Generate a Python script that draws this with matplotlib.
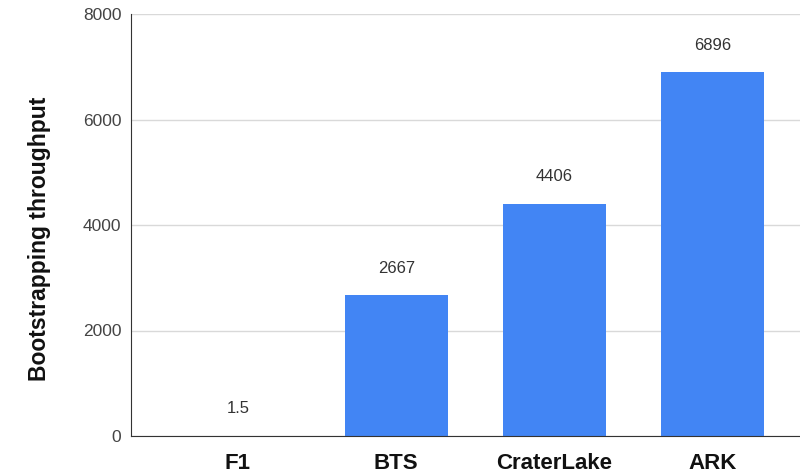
import matplotlib
matplotlib.use("Agg")
import matplotlib.pyplot as plt

categories = ["F1", "BTS", "CraterLake", "ARK"]
throughput = [1.5, 2667, 4406, 6896]
value_labels = ["1.5", "2667", "4406", "6896"]
y_ticks = [0, 2000, 4000, 6000, 8000]

plt.rcParams["font.family"] = ["Liberation Sans", "DejaVu Sans"]

fig = plt.figure(figsize=(8, 4.76), dpi=100)
ax = fig.add_axes([131 / 800, 40 / 476, 669 / 800, 422 / 476])

x = list(range(len(categories)))
ax.bar(x, throughput, width=0.65, color="#4285F4", zorder=3)

for xi, v, lab in zip(x, throughput, value_labels):
    ax.annotate(lab, (xi, v), xytext=(0, 19.5), textcoords="offset points",
                ha="center", va="center", fontsize=12, color="#333333")

ax.set_xlim(-0.675, 3.55)
ax.set_ylim(0, 8000)
ax.set_yticks(y_ticks)
ax.set_yticklabels([str(t) for t in y_ticks], fontsize=12.5, color="#444444")
ax.set_xticks(x)
ax.set_xticklabels(categories, fontsize=16, fontweight="bold", color="#111111")
ax.tick_params(axis="y", length=0, pad=7)
ax.tick_params(axis="x", length=0, pad=12)

ax.grid(axis="y", color="#d9d9d9", linewidth=1, zorder=0)
for s in ["top", "right"]:
    ax.spines[s].set_visible(False)
ax.spines["left"].set_color("#333333")
ax.spines["bottom"].set_color("#333333")
ax.spines["left"].set_zorder(4)
ax.spines["bottom"].set_zorder(4)

ax.set_ylabel("Bootstrapping throughput", fontsize=16.5, fontweight="bold",
              color="#111111")
ax.yaxis.set_label_coords(-0.12, 0.467)

fig.savefig("out.png", dpi=100)
